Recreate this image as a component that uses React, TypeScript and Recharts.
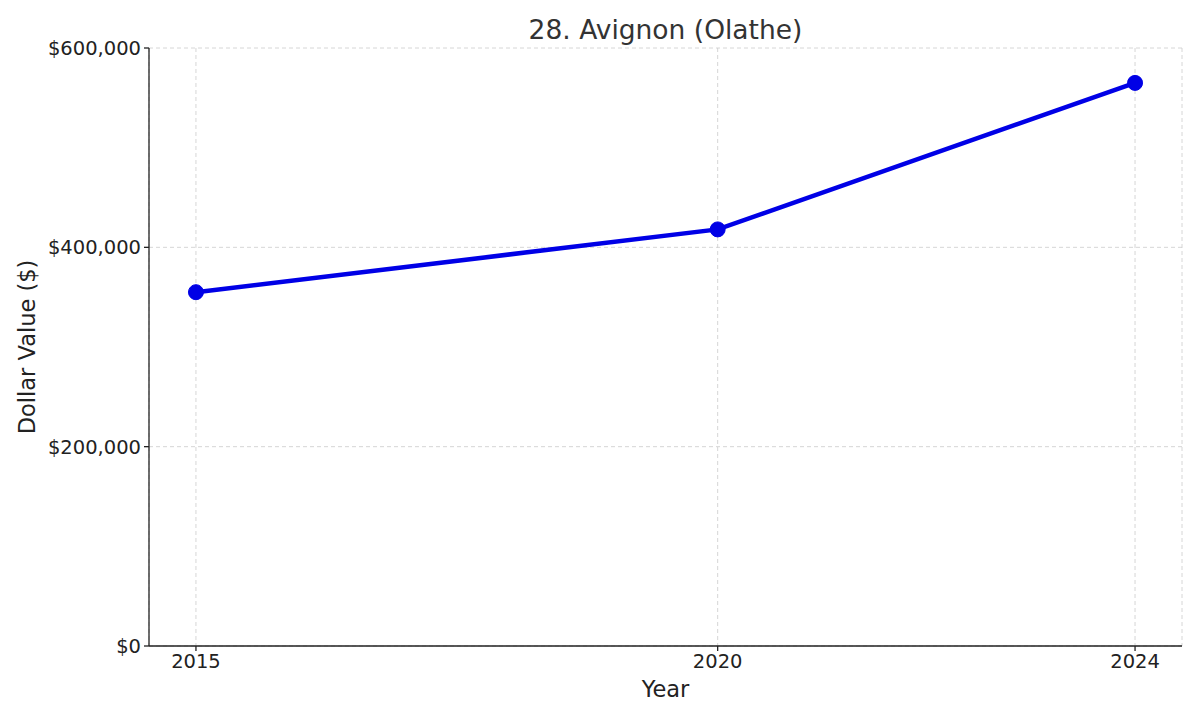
import React from "react";
import { LineChart, Line, XAxis, YAxis, CartesianGrid } from "recharts";

const years = [2015, 2020, 2024];
const values = [355000, 418000, 565000];
const yTicks = [0, 200000, 400000, 600000];
const xTicks = [2015, 2020, 2024];

const data = years.map((y, i) => ({ year: y, value: values[i] }));

const FONT = "'DejaVu Sans', sans-serif";

const fmt = (v: number) => "$" + v.toLocaleString("en-US");

export default function App() {
  return (
    <div style={{ position: "absolute", left: 0, top: 0, width: 1200, height: 720, background: "#fff", fontFamily: FONT }}>
      <div style={{ position: "absolute", top: 14, left: 149, width: 1033, textAlign: "center", fontSize: 26.5, color: "#333" }}>
        28. Avignon (Olathe)
      </div>
      <LineChart width={1200} height={720} data={data} margin={{ top: 48, right: 18, bottom: 0, left: 0 }}>
        <CartesianGrid stroke="#cccccc" strokeDasharray="4 3" strokeWidth={0.8} />
        <XAxis
          dataKey="year"
          type="number"
          domain={[2014.55, 2024.45]}
          ticks={xTicks}
          height={74}
          tickSize={5}
          tickMargin={3}
          stroke="#222"
          strokeWidth={1.3}
          tick={{ fill: "#222", fontSize: 19.5, fontFamily: FONT }}
          allowDecimals={false}
          label={{ value: "Year", position: "insideBottom", offset: 23, fill: "#222", fontSize: 22.5, fontFamily: FONT }}
        />
        <YAxis
          type="number"
          domain={[0, 600000]}
          ticks={yTicks}
          width={149}
          tickSize={5}
          tickMargin={3}
          stroke="#222"
          strokeWidth={1.3}
          tickFormatter={fmt}
          tick={{ fill: "#222", fontSize: 19.5, fontFamily: FONT }}
          label={{ value: "Dollar Value ($)", angle: -90, position: "insideLeft", offset: 27, fill: "#222", fontSize: 22.5, fontFamily: FONT, style: { textAnchor: "middle" } }}
        />
        <Line
          dataKey="value"
          stroke="#0000e6"
          strokeWidth={4.5}
          dot={{ r: 7.5, fill: "#0000e6", stroke: "#0000e6", strokeWidth: 1 }}
          isAnimationActive={false}
        />
      </LineChart>
    </div>
  );
}
